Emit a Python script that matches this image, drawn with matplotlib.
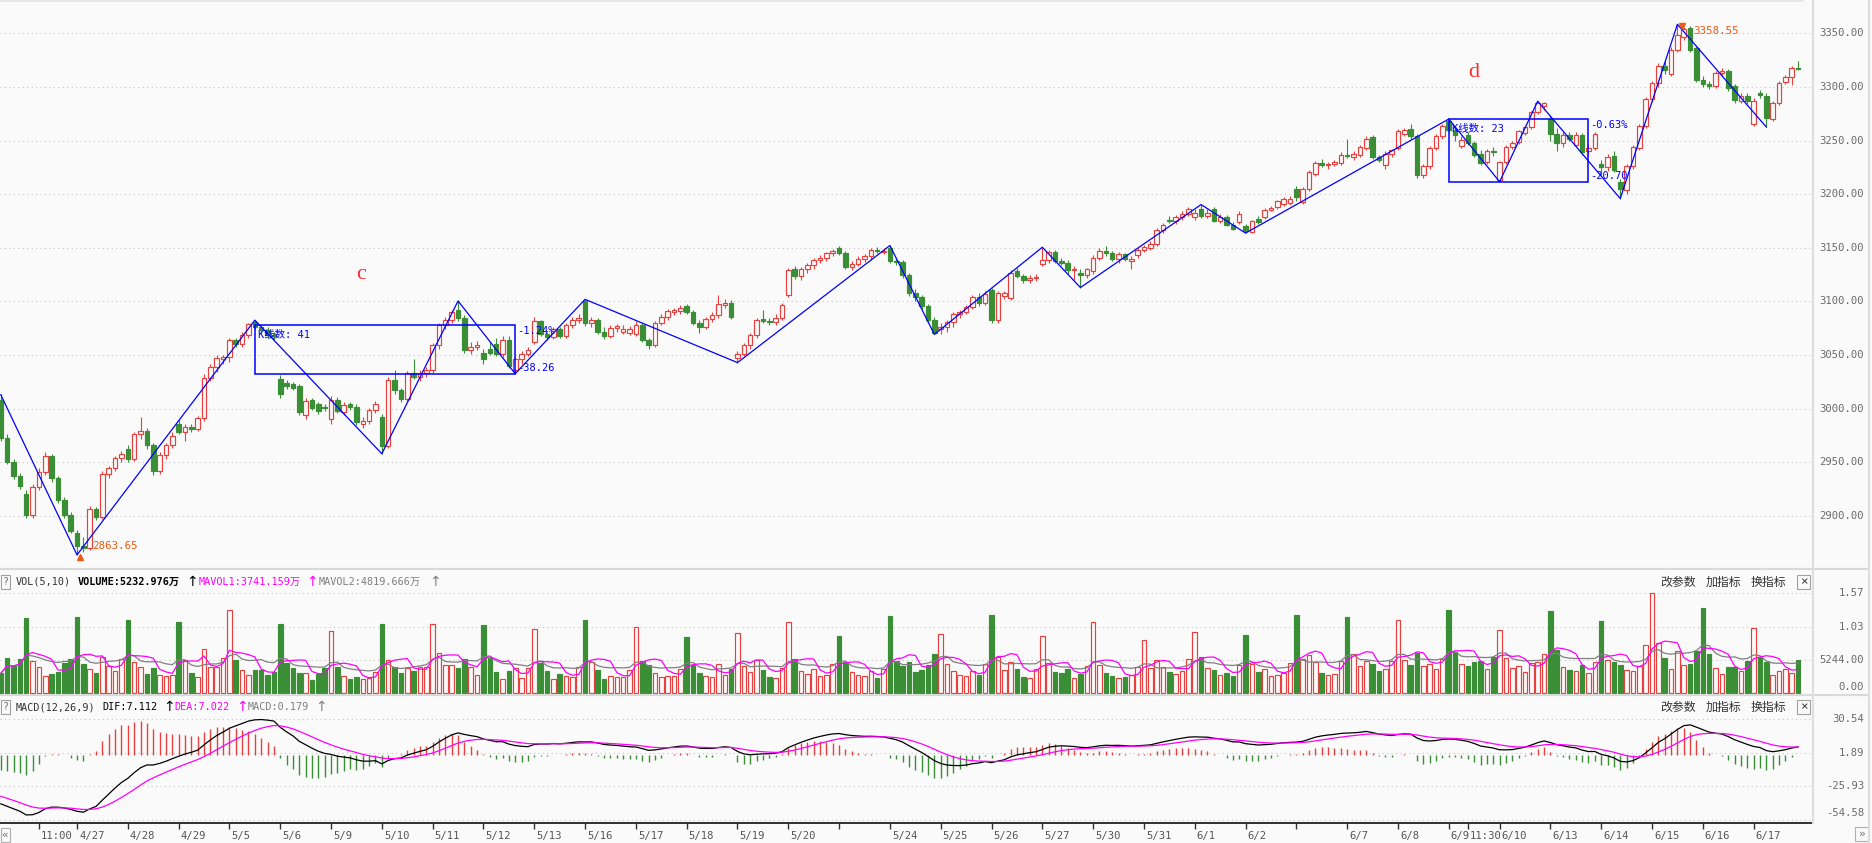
import numpy as np
import pandas as pd
import matplotlib
matplotlib.use("Agg")
import matplotlib.pyplot as plt
import matplotlib.transforms as mtransforms
from matplotlib.lines import Line2D
from matplotlib.patches import Rectangle

plt.rcParams['font.family'] = ['DejaVu Sans Mono', 'Noto Sans CJK SC']

# 30 minute bars, 4/25 afternoon .. 6/17, 8 bars a day (one row per day)
opens = [
    3008, 2973, 2950, 2937, 2920, 2901, 2927, 2941, 2956, 2935, 2915, 2901,
    2884, 2872, 2870, 2906, 2899, 2939, 2945, 2954,
    2962, 2953, 2976, 2979, 2966, 2942, 2957, 2966,
    2986, 2978, 2983, 2981, 2991, 3029, 3039, 3046,
    3048, 3064, 3060, 3069, 3081, 3076, 3073, 3069,
    3028, 3024, 3023, 3021, 2994, 3008, 3004, 3002,
    2990, 3008, 2997, 3004, 3002, 2986, 2989, 2999,
    2992, 2965, 3027, 3017, 3009, 3033, 3030, 3033,
    3036, 3059, 3078, 3083, 3092, 3085, 3055, 3058,
    3052, 3056, 3060, 3051, 3064, 3036, 3046, 3051,
    3062, 3082, 3070, 3067, 3074, 3068, 3078, 3083,
    3100, 3080, 3083, 3072, 3068, 3075, 3072, 3071,
    3070, 3078, 3064, 3059, 3080, 3086, 3090, 3091,
    3096, 3090, 3080, 3076, 3084, 3087, 3097, 3099,
    3047, 3051, 3059, 3069, 3084, 3082, 3081, 3085,
    3106, 3130, 3124, 3130, 3134, 3139, 3141, 3145,
    3150, 3145, 3132, 3135, 3140, 3142, 3148, 3146,
    3150, 3138, 3137, 3125, 3108, 3104, 3096, 3083,
    3074, 3076, 3081, 3088, 3090, 3095, 3104, 3099,
    3111, 3083, 3105, 3103, 3128, 3124, 3120, 3122,
    3135, 3139, 3146, 3138, 3136, 3129, 3127, 3125,
    3128, 3141, 3147, 3145, 3140, 3144, 3138, 3143,
    3148, 3150, 3154, 3167, 3176, 3175, 3179, 3182,
    3179, 3186, 3180, 3186, 3175, 3179, 3171, 3174,
    3170, 3165, 3177, 3179, 3185, 3188, 3191, 3192,
    3205, 3193, 3205, 3219, 3229, 3227, 3228, 3229,
    3237, 3235, 3237, 3243, 3253, 3235, 3227, 3238,
    3243, 3256, 3261, 3254, 3218, 3226, 3243, 3254,
    3268, 3260, 3245, 3255, 3248, 3238, 3230, 3240,
    3213, 3230, 3244, 3249, 3257, 3263, 3277, 3282,
    3270, 3256, 3248, 3255, 3246, 3255, 3240, 3243,
    3228, 3225, 3236, 3211, 3204, 3226, 3243, 3264,
    3289, 3304, 3320, 3312, 3335, 3347, 3355, 3336,
    3307, 3303, 3301, 3313, 3315, 3301, 3287, 3292,
    3266, 3294, 3292, 3270, 3285, 3305, 3309, 3318,
]
highs = [
    3014, 2976, 2953, 2940, 2924, 2930, 2945, 2960, 2958, 2937, 2918, 2904,
    2887, 2880, 2909, 2908, 2942, 2947, 2956, 2961,
    2966, 2978, 2992, 2982, 2968, 2960, 2968, 2978,
    2990, 2986, 2986, 2993, 3032, 3042, 3050, 3050,
    3066, 3066, 3072, 3080, 3082.6, 3078, 3076, 3072,
    3031, 3027, 3025, 3023, 3010, 3010, 3006, 3004,
    3012, 3011, 3006, 3006, 3004, 2992, 3001, 3007,
    2995, 3030, 3036, 3019, 3035, 3046, 3036, 3039,
    3061, 3080, 3086, 3092, 3100.5, 3087, 3062, 3063,
    3056, 3062, 3066, 3068, 3068, 3048, 3054, 3058,
    3086, 3083, 3072, 3076, 3076, 3080, 3086, 3088,
    3102, 3086, 3085, 3076, 3078, 3079, 3078, 3077,
    3082, 3080, 3066, 3082, 3088, 3093, 3094, 3097,
    3098, 3092, 3083, 3086, 3090, 3105.6, 3102, 3101,
    3054, 3061, 3071, 3085, 3092, 3085, 3088, 3099,
    3131, 3133, 3132, 3136, 3141, 3143, 3146, 3149,
    3152, 3147, 3138, 3142, 3144, 3150, 3151, 3150,
    3152.2, 3141, 3139, 3127, 3112, 3106, 3098, 3086,
    3080, 3083, 3090, 3092, 3097, 3106, 3108, 3110,
    3113, 3110, 3110, 3129, 3131, 3126, 3125, 3126,
    3150.6, 3148, 3148, 3141, 3139, 3133, 3130, 3131,
    3143, 3150, 3152, 3147, 3146, 3145, 3142, 3150,
    3153, 3156, 3169, 3173, 3180, 3181, 3184, 3188,
    3186, 3190.4, 3186, 3188, 3182, 3181, 3174, 3184,
    3172, 3176, 3180, 3187, 3189, 3195, 3197, 3198,
    3208, 3207, 3223, 3231, 3233, 3230, 3232, 3239,
    3252, 3240, 3246, 3254, 3255, 3237, 3240, 3242,
    3261, 3262, 3266, 3256, 3228, 3245, 3256, 3266,
    3270.2, 3262, 3254, 3258, 3250, 3241, 3242, 3244,
    3231, 3246, 3250, 3260, 3264, 3278, 3286.8, 3286,
    3274, 3262, 3258, 3258, 3258, 3257, 3247, 3258,
    3232, 3238, 3240, 3214, 3228, 3246, 3266, 3291,
    3306, 3322, 3324, 3337, 3358.55, 3356, 3357, 3338,
    3310, 3306, 3315, 3318, 3317, 3303, 3294, 3294,
    3290, 3297, 3294, 3287, 3306, 3311, 3320, 3324,
]
lows = [
    2970, 2948, 2934, 2925, 2898, 2898, 2924, 2938, 2932, 2912, 2898, 2884,
    2863.65, 2866, 2868, 2896, 2897, 2935, 2942, 2950,
    2950, 2951, 2972, 2962, 2938, 2939, 2953, 2963,
    2976, 2970, 2978, 2979, 2989, 3026, 3034, 3042,
    3044, 3058, 3058, 3066, 3074, 3070, 3066, 3064,
    3010, 3018, 3017, 2994, 2990, 2999, 2995, 2998,
    2986, 2996, 2994, 2999, 2985, 2982, 2986, 2996,
    2958, 2963, 3014, 3006, 3006, 3028, 3026, 3030,
    3033, 3056, 3074, 3080, 3082, 3052, 3051, 3055,
    3042, 3050, 3049, 3048, 3038, 3032.6, 3042, 3049,
    3060, 3068, 3064, 3065, 3066, 3066, 3075, 3080,
    3077, 3076, 3070, 3065, 3066, 3072, 3070, 3069,
    3068, 3062, 3056, 3058, 3078, 3083, 3087, 3088,
    3088, 3078, 3071, 3074, 3081, 3085, 3094, 3084,
    3043, 3049, 3056, 3066, 3080, 3078, 3078, 3083,
    3104, 3121, 3120, 3127, 3130, 3136, 3138, 3142,
    3143, 3130, 3129, 3133, 3137, 3139, 3145, 3144,
    3136, 3134, 3122, 3105, 3100, 3093, 3080, 3069.3,
    3070, 3072, 3076, 3085, 3088, 3093, 3096, 3097,
    3080, 3080, 3102, 3101, 3122, 3117, 3117, 3119,
    3133, 3136, 3136, 3134, 3126, 3120, 3113, 3122,
    3126, 3139, 3142, 3138, 3136, 3138, 3130, 3141,
    3146, 3148, 3152, 3164, 3173, 3172, 3176, 3180,
    3176, 3178, 3178, 3174, 3173, 3170, 3167, 3172,
    3163.8, 3164, 3172, 3177, 3184, 3186, 3189, 3190,
    3194, 3191, 3203, 3217, 3225, 3224, 3226, 3227,
    3234, 3232, 3235, 3241, 3233, 3230, 3224, 3235,
    3241, 3254, 3252, 3215, 3215, 3224, 3241, 3252,
    3258, 3250, 3243, 3246, 3235, 3227, 3228, 3236,
    3211.7, 3228, 3242, 3247, 3255, 3261, 3275, 3279,
    3250, 3240, 3244, 3250, 3244, 3237, 3236, 3241,
    3218, 3222, 3221, 3196, 3200, 3224, 3241, 3262,
    3286, 3300, 3312, 3310, 3333, 3344, 3333, 3305,
    3300, 3298, 3299, 3310, 3296, 3285, 3285, 3284,
    3264, 3290, 3262.7, 3268, 3283, 3303, 3302, 3316,
]
closes = [
    2973, 2950, 2937, 2928, 2901, 2927, 2941, 2956, 2935, 2915, 2901, 2886,
    2872, 2870, 2906, 2899, 2939, 2945, 2954, 2958,
    2953, 2976, 2979, 2966, 2942, 2957, 2966, 2975,
    2978, 2983, 2981, 2991, 3029, 3039, 3047, 3048,
    3064, 3060, 3069, 3079, 3076, 3073, 3069, 3068,
    3014, 3021, 3019, 2997, 3007, 3001, 2998, 3001,
    3008, 2998, 3003, 3002, 2988, 2989, 2999, 3004,
    2965, 3027, 3017, 3009, 3033, 3030, 3033, 3036,
    3059, 3078, 3083, 3090, 3085, 3055, 3058, 3059,
    3046, 3052, 3051, 3064, 3040, 3046, 3051, 3055,
    3082, 3070, 3067, 3074, 3068, 3078, 3083, 3085,
    3080, 3083, 3072, 3068, 3075, 3077, 3074, 3074,
    3078, 3064, 3059, 3080, 3086, 3091, 3092, 3094,
    3090, 3080, 3076, 3084, 3087, 3098, 3099, 3086,
    3051, 3059, 3069, 3083, 3082, 3081, 3085, 3097,
    3129, 3124, 3130, 3134, 3139, 3141, 3145, 3147,
    3145, 3132, 3135, 3140, 3142, 3148, 3147, 3147,
    3138, 3137, 3125, 3108, 3104, 3096, 3083, 3071,
    3076, 3081, 3088, 3090, 3095, 3104, 3099, 3107,
    3083, 3108, 3108, 3127, 3124, 3120, 3122, 3123,
    3139, 3146, 3138, 3136, 3129, 3130, 3125, 3130,
    3141, 3147, 3145, 3140, 3144, 3140, 3140, 3148,
    3151, 3154, 3167, 3171, 3175, 3179, 3182, 3186,
    3183, 3180, 3183, 3175, 3179, 3171, 3168, 3182,
    3166, 3175, 3174, 3185, 3187, 3194, 3196, 3196,
    3197, 3205, 3221, 3229, 3227, 3228, 3230, 3237,
    3236, 3238, 3244, 3252, 3235, 3232, 3238, 3241,
    3259, 3260, 3254, 3218, 3226, 3243, 3254, 3264,
    3260, 3255, 3251, 3248, 3237, 3229, 3240, 3239,
    3230, 3244, 3248, 3259, 3263, 3277, 3285, 3285,
    3256, 3248, 3255, 3252, 3255, 3239, 3243, 3256,
    3225, 3235, 3223, 3205, 3226, 3244, 3264, 3289,
    3304, 3320, 3316, 3335, 3349, 3354, 3335, 3307,
    3303, 3301, 3313, 3315, 3299, 3288, 3292, 3287,
    3287, 3293, 3271, 3285, 3304, 3309, 3318, 3317,
]
# volume, 万 shares
volumes = [
    3090, 5450, 4200, 5340, 11730, 5030, 4040, 2680, 2990, 3360, 4770, 5340,
    11990, 4560, 3720, 3200, 5610, 4250, 3460, 5290,
    11470, 4820, 4040, 2990, 3990, 2840, 2700, 2900,
    11200, 5190, 3200, 2580, 6860, 4140, 4040, 5450,
    13040, 5190, 3620, 2840, 3620, 3620, 2840, 3360,
    10840, 4670, 3880, 3200, 3090, 2050, 2990, 3880,
    9740, 4140, 2680, 2160, 2580, 2210, 2310, 3360,
    10840, 5190, 4040, 3090, 3880, 3520, 4140, 4040,
    10840, 6240, 4400, 4400, 3880, 5290, 4140, 2840,
    10680, 5500, 3360, 2160, 3520, 3880, 2310, 3880,
    10000, 4770, 3520, 2160, 2990, 2680, 2580, 4140,
    11470, 4930, 3620, 2210, 2680, 2580, 2470, 3620,
    10420, 5090, 4400, 3090, 2580, 2680, 2680, 3720,
    8850, 4400, 3200, 2700, 2500, 4600, 2900, 3800,
    9400, 4300, 3300, 5200, 3600, 2500, 2300, 3900,
    11100, 5400, 3500, 3000, 3700, 2600, 2800, 4500,
    8900, 4800, 3300, 2900, 2600, 3400, 2400, 3800,
    12100, 5100, 4200, 4800, 3300, 3600, 4400, 6200,
    9300, 4500, 3500, 2900, 2600, 3400, 2800, 4600,
    12200, 5600, 3600, 4900, 3800, 2500, 2300, 3700,
    8900, 4700, 3300, 3100, 3800, 2400, 3000, 4200,
    11100, 4400, 3200, 2700, 2300, 2500, 2900, 4100,
    8300, 3900, 5200, 4100, 3300, 3000, 3500, 5300,
    9600, 5700, 4000, 3600, 2800, 3100, 2600, 4400,
    9100, 4600, 3300, 3700, 2700, 2900, 3200, 4700,
    12200, 5300, 5900, 4800, 3200, 2900, 3000, 5100,
    11900, 6100, 4300, 5000, 4600, 3400, 3700, 5000,
    11400, 5200, 4400, 6300, 4200, 4600, 3800, 5400,
    13000, 6400, 4500, 4200, 4800, 5100, 3800, 5600,
    9900, 5500, 3900, 4300, 3300, 4700, 4900, 6100,
    12900, 6800, 4100, 3600, 3400, 4400, 3200, 4800,
    11300, 5180, 4910, 4400, 3610, 3450, 4240, 7530,
    15700, 7800, 5450, 3720, 6650, 4350, 4560, 6650,
    13300, 6130, 3880, 2940, 4140, 4040, 3450, 5070,
    10170, 5610, 4930, 2840, 3450, 3720, 3090, 5230,
]

day_labels = ['4/27', '4/28', '4/29', '5/5', '5/6', '5/9', '5/10', '5/11', '5/12',
              '5/13', '5/16', '5/17', '5/18', '5/19', '5/20', '', '5/24', '5/25',
              '5/26', '5/27', '5/30', '5/31', '6/1', '6/2', '', '6/7', '6/8',
              '6/9', '6/10', '6/13', '6/14', '6/15', '6/16', '6/17']
first_day_bar = 12
bars_per_day = 8
time_ticks = [6, 231]
time_labels = ['11:00', '11:30']

price_ticks = [2900, 2950, 3000, 3050, 3100, 3150, 3200, 3250, 3300, 3350]
vol_ticks = [0, 5244, 10300, 15700]
vol_labels = ['0.00', '5244.00', '1.03', '1.57']
macd_ticks = [30.54, 1.89, -25.93, -54.58]

# zigzag turning points (bar, price)
zz_bar = [0, 12, 40, 60, 72, 81, 92, 116, 140, 147, 164, 170, 189, 196, 228, 236, 242, 255, 264, 278]
zz_price = [3013, 2863.65, 3082.6, 2958, 3100.5, 3032.6, 3102, 3043, 3152.2, 3069.3,
            3150.6, 3113, 3190.4, 3163.8, 3270.2, 3211.7, 3286.8, 3196, 3358.55, 3262.7]

box_start = [40, 228]
box_end = [81, 250]
box_top = [3078.3, 3270.2]
box_bottom = [3032.6, 3211.0]
box_count = ['K线数: 41', 'K线数: 23']
box_pct = ['-1.24%', '-0.63%']
box_diff = ['-38.26', '-20.70']

wave_names = ['c', 'd']
wave_bar = [56.7, 231.9]
wave_price = [3125, 3314]

# seeds of the averages at the left edge
EMA12_START, EMA26_START, DEA_START = 3022.0, 3062.0, -33.0

BG = '#fafafa'
RED = '#e8403f'
GREEN = '#3a8e36'
BLUE = '#0000ff'
MAG = '#ff00ff'
ORANGE = '#ee5a10'
GRID = '#c4c4c4'
W, H = 1872, 843

fig = plt.figure(figsize=(W / 100, H / 100), dpi=100, facecolor=BG)


def px_axes(x0, y0, x1, y1):
    ax = fig.add_axes([x0 / W, 1 - y1 / H, (x1 - x0) / W, (y1 - y0) / H])
    ax.set_facecolor(BG)
    for s in ax.spines.values():
        s.set_visible(False)
    ax.set_yticks([])
    ax.set_xticks([])
    ax.set_xlim(-0.126, 285.35)
    return ax


def ftext(x, y, s, **kw):
    kw.setdefault('fontsize', 7.3)
    kw.setdefault('va', 'center')
    kw.setdefault('ha', 'left')
    fig.text(x / W, 1 - y / H, s, **kw)


def fline(xs, ys, **kw):
    fig.add_artist(Line2D([x / W for x in xs], [1 - y / H for y in ys],
                          transform=fig.transFigure, **kw))


def right_labels(ax, vals, texts, offsets):
    trans = mtransforms.blended_transform_factory(ax.transAxes, ax.transData)
    for v, t, off in zip(vals, texts, offsets):
        ax.annotate(t, xy=(1864 / 1813, v), xycoords=trans, xytext=(0, off),
                    textcoords='offset pixels', ha='right', va='center',
                    fontsize=7.6, color='#6a6a6a', annotation_clip=False)


idx = np.arange(len(closes))
o = np.array(opens, float)
h = np.array(highs, float)
l = np.array(lows, float)
c = np.array(closes, float)
v = np.array(volumes, float)
up = c >= o

# ---- price panel
ax = px_axes(0, 0, 1813, 569)
ax.set_ylim(2850.5, 3381.2)
for t in price_ticks:
    ax.axhline(t, color=GRID, lw=0.8, ls=(0, (1, 3)), zorder=0)
ax.vlines(idx[up], l[up], h[up], color=RED, lw=0.8, zorder=2)
ax.vlines(idx[~up], l[~up], h[~up], color=GREEN, lw=0.8, zorder=2)
blo = np.minimum(o, c)
bh = np.maximum(np.abs(c - o), 0.7)
ax.bar(idx[up], bh[up], bottom=blo[up], width=0.72, facecolor=BG, edgecolor=RED, lw=0.85, zorder=3)
ax.bar(idx[~up], bh[~up], bottom=blo[~up], width=0.72, facecolor=GREEN, edgecolor=GREEN, lw=0.85, zorder=3)
ax.plot(zz_bar, zz_price, color=BLUE, lw=0.9, zorder=4)
for s, e, t, b, kc, kp, kd in zip(box_start, box_end, box_top, box_bottom, box_count, box_pct, box_diff):
    ax.add_patch(Rectangle((s, b), e - s, t - b, fill=False, edgecolor=BLUE, lw=1.1, zorder=5))
    ax.annotate(kc, xy=(s, t), xytext=(3, -10), textcoords='offset pixels', ha='left', va='center',
                fontsize=7.5, color=BLUE, zorder=6)
    ax.annotate(kp, xy=(e, t), xytext=(2, -6), textcoords='offset pixels', ha='left', va='center',
                fontsize=7.5, color=BLUE, zorder=6)
    ax.annotate(kd, xy=(e, b), xytext=(2, 6), textcoords='offset pixels', ha='left', va='center',
                fontsize=7.5, color=BLUE, zorder=6)
for name, xb, yp in zip(wave_names, wave_bar, wave_price):
    ax.text(xb, yp, name, color='#ff2a2a', fontsize=16, family='Liberation Serif', ha='center', va='center')

ilo = int(np.argmin(l))
ihi = int(np.argmax(h))
ax.plot([ilo + 0.4], [l[ilo] - 1.5], marker='^', color=ORANGE, ms=5, zorder=6)
ax.annotate('%.2f' % l[ilo], xy=(ilo, l[ilo]), xytext=(15, 9), textcoords='offset pixels',
            ha='left', va='center', fontsize=7.8, color=ORANGE)
ax.plot([ihi + 0.7], [h[ihi] - 1.5], marker='v', color=ORANGE, ms=5, zorder=6)
ax.annotate('%.2f' % h[ihi], xy=(ihi, h[ihi]), xytext=(16, -7), textcoords='offset pixels',
            ha='left', va='center', fontsize=7.8, color=ORANGE)
right_labels(ax, price_ticks, ['%.2f' % t for t in price_ticks], [0] * len(price_ticks))

# ---- volume panel
axv = px_axes(0, 569, 1813, 695)
axv.set_ylim(-314, 19468)
for t in vol_ticks[1:]:
    axv.axhline(t, color=GRID, lw=0.8, ls=(0, (1, 3)), zorder=0)
axv.bar(idx[up], v[up], width=0.72, facecolor=BG, edgecolor=RED, lw=0.85, zorder=3)
axv.bar(idx[~up], v[~up], width=0.72, facecolor=GREEN, edgecolor=GREEN, lw=0.85, zorder=3)
mav1 = pd.Series(v).rolling(5, min_periods=1).mean()
mav2 = pd.Series(v).rolling(10, min_periods=1).mean()
axv.plot(idx, mav2, color='#808080', lw=0.9, zorder=4)
axv.plot(idx, mav1, color=MAG, lw=0.9, zorder=4)
right_labels(axv, vol_ticks, vol_labels, [6, 0, 0, 0])

# ---- MACD panel
def ema(vals, n, seed):
    k = 2.0 / (n + 1)
    out = []
    prev = seed
    for x in vals:
        prev = prev + k * (x - prev)
        out.append(prev)
    return np.array(out)

dif = ema(c, 12, EMA12_START) - ema(c, 26, EMA26_START)
dea = ema(dif, 9, DEA_START)
hist = 2 * (dif - dea)

axm = px_axes(0, 695, 1813, 823)
axm.set_ylim(-57.09, 50.76)
for t in macd_ticks:
    axm.axhline(t, color=GRID, lw=0.8, ls=(0, (1, 3)), zorder=0)
axm.vlines(idx, 0, hist, colors=[RED if x >= 0 else GREEN for x in hist], lw=1.0, zorder=2)
axm.plot(idx, dif, color='black', lw=0.9, zorder=3)
axm.plot(idx, dea, color=MAG, lw=0.9, zorder=3)
right_labels(axm, macd_ticks, ['%.2f' % t for t in macd_ticks], [0, 0, 0, 7])

axm.spines['bottom'].set_visible(True)
axm.spines['bottom'].set_color('#202020')
axm.spines['bottom'].set_linewidth(1.3)
tick_pos = [first_day_bar + bars_per_day * k for k in range(len(day_labels))] + time_ticks
tick_lab = day_labels + time_labels
axm.set_xticks(tick_pos)
axm.set_xticklabels(tick_lab)
axm.tick_params(axis='x', length=4.3, width=1, color='#303030', pad=1.5,
                labelsize=7.6, labelcolor='#555555')
shift = mtransforms.ScaledTranslation(2 / 100, 0, fig.dpi_scale_trans)
for lab in axm.get_xticklabels():
    lab.set_ha('left')
    lab.set_transform(lab.get_transform() + shift)

# ---- frame, separators and panel headers
fline([0, 1869], [569, 569], color='#d9d9d9', lw=1.5)
fline([0, 1869], [695, 695], color='#d9d9d9', lw=1.5)
fline([0, 1803], [1, 1], color='#e2e2e2', lw=1.2)
fline([1813, 1813], [0, 823], color='#dedede', lw=1.5)
fline([1869, 1869], [0, 843], color='#dedede', lw=1.5)

for y in (582, 707):
    fig.add_artist(Rectangle((1 / W, 1 - (y + 7) / H), 9 / W, 14 / H, transform=fig.transFigure,
                             fill=False, edgecolor='#a0a0a0', lw=0.8))
    ftext(5.5, y, '?', ha='center', color='#707070', fontsize=7)
    ftext(1660, y, '改参数', fontsize=8.6, color='#333333')
    ftext(1706, y, '加指标', fontsize=8.6, color='#333333')
    ftext(1751, y, '换指标', fontsize=8.6, color='#333333')
    fig.add_artist(Rectangle((1797 / W, 1 - (y + 7) / H), 13 / W, 14 / H, transform=fig.transFigure,
                             fill=False, edgecolor='#a0a0a0', lw=0.8))
    ftext(1803.5, y, '×', ha='center', color='#404040', fontsize=9)

ARROW = dict(fontsize=10, family=['DejaVu Sans'])
ftext(15.6, 582, 'VOL(5,10)', color='#333333')
ftext(78, 582, 'VOLUME:5232.976万', color='black', fontweight='bold')
ftext(186, 582, '↑', color='black', **ARROW)
ftext(199, 582, 'MAVOL1:3741.159万', color=MAG)
ftext(306, 582, '↑', color=MAG, **ARROW)
ftext(319, 582, 'MAVOL2:4819.666万', color='#808080')
ftext(429, 582, '↑', color='#808080', **ARROW)

ftext(15.6, 707, 'MACD(12,26,9)', color='#333333')
ftext(102, 707, 'DIF:7.112', color='black')
ftext(163, 707, '↑', color='black', **ARROW)
ftext(174, 707, 'DEA:7.022', color=MAG)
ftext(236, 707, '↑', color=MAG, **ARROW)
ftext(248, 707, 'MACD:0.179', color='#808080')
ftext(315, 707, '↑', color='#808080', **ARROW)

fig.add_artist(Rectangle((0.5 / W, 1 - 842 / H), 9 / W, 14 / H, transform=fig.transFigure,
                         fill=False, edgecolor='#b0b0b0', lw=0.8))
ftext(5, 835, '«', ha='center', color='#707070', fontsize=8)
fig.add_artist(Rectangle((1855 / W, 1 - 841 / H), 14 / W, 14 / H, transform=fig.transFigure,
                         fill=False, edgecolor='#b0b0b0', lw=0.8))
ftext(1862, 834, '»', ha='center', color='#707070', fontsize=8)

fig.savefig('out.png', dpi=100, facecolor=BG)
